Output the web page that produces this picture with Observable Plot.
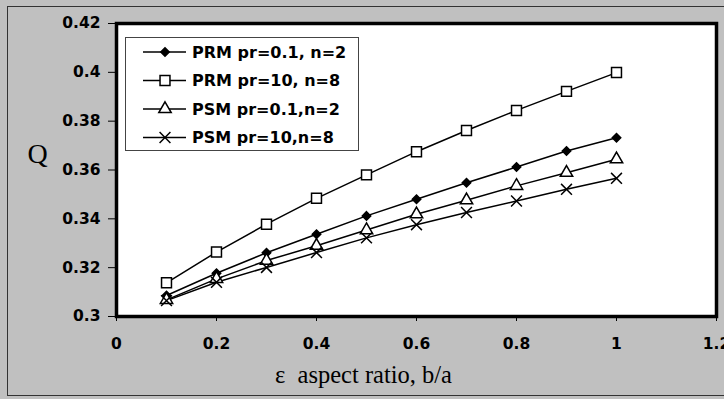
<!DOCTYPE html>
<html><head><meta charset="utf-8">
<script src="https://cdn.jsdelivr.net/npm/d3@7"></script>
<script src="https://cdn.jsdelivr.net/npm/@observablehq/plot@0.6"></script>
<style>
html,body{margin:0;padding:0;background:#c0c0c0;color:#000}
#chart svg{display:block}
</style>
</head><body><div id="chart"></div>
<script>
const ratios = [0.1, 0.2, 0.3, 0.4, 0.5, 0.6, 0.7, 0.8, 0.9, 1.0];
const seriesNames = ["PRM pr=0.1, n=2", "PRM pr=10, n=8", "PSM pr=0.1,n=2", "PSM pr=10,n=8"];
const prmPr01n2 = [0.3086, 0.3177, 0.3261, 0.3337, 0.3412, 0.3480, 0.3548, 0.3612, 0.3678, 0.3732];
const prmPr10n8 = [0.3138, 0.3264, 0.3378, 0.3484, 0.3580, 0.3675, 0.3762, 0.3844, 0.3922, 0.3999];
const psmPr01n2 = [0.3068, 0.3154, 0.3229, 0.3290, 0.3354, 0.3419, 0.3476, 0.3535, 0.3589, 0.3644];
const psmPr10n8 = [0.3065, 0.3140, 0.3201, 0.3262, 0.3322, 0.3376, 0.3426, 0.3473, 0.3521, 0.3566];
const xTicks = [0, 0.2, 0.4, 0.6, 0.8, 1, 1.2];
const yTicks = [0.3, 0.32, 0.34, 0.36, 0.38, 0.4, 0.42];
const xTitle = "ε\u00a0\u00a0aspect ratio, b/a";
const yTitle = "Q";

const seriesValues = [prmPr01n2, prmPr10n8, psmPr01n2, psmPr10n8];
const symbolNames = ["diamond2", "square", "triangle", "times"];
const d3Symbols = [d3.symbolDiamond2, d3.symbolSquare, d3.symbolTriangle, d3.symbolTimes];
const fills = ["black", "white", "white", "none"];
const radii = [3.8, 5.6, 4.6, 5];

const rows = seriesValues.flatMap((vals, i) =>
  vals.map((q, j) => ({series: seriesNames[i], idx: i, x: ratios[j], q})));

const W = 724, H = 399;
const fmt = d3.format("~g");

const plot = Plot.plot({
  width: W, height: H,
  marginLeft: 116, marginRight: 8, marginTop: 23, marginBottom: 83,
  style: {background: "#c0c0c0", fontFamily: "DejaVu Sans", fontWeight: "bold", fontSize: "15.5px", color: "#000"},
  x: {domain: [0, 1.2]},
  y: {domain: [0.3, 0.42]},
  marks: [
    Plot.frame({fill: "white"}),
    Plot.line(rows, {x: "x", y: "q", z: "series", stroke: "black", strokeWidth: 1.5}),
    ...seriesNames.map((name, i) =>
      Plot.dot(rows.filter(d => d.idx === i), {
        x: "x", y: "q", symbol: symbolNames[i], r: radii[i],
        fill: fills[i], stroke: "black", strokeWidth: 1.5
      })),
    Plot.frame({stroke: "black", strokeWidth: 3.5}),
    Plot.axisX({ticks: xTicks, tickFormat: fmt, tickSize: 5, tickPadding: 16, label: null, stroke: "black"}),
    Plot.axisY({ticks: yTicks, tickFormat: fmt, tickSize: 8, tickPadding: 8, label: null, stroke: "black"}),
    Plot.text([xTitle], {frameAnchor: "bottom", dx: -53, dy: 66, fontFamily: "Liberation Serif", fontWeight: "normal", fontSize: 24.5, fill: "black"}),
    Plot.text([yTitle], {frameAnchor: "left", dx: -89, dy: -16, fontFamily: "Liberation Serif", fontWeight: "normal", fontSize: 28, fill: "black"})
  ]
});

const svg = d3.select(plot);
// outer chart border
svg.append("rect")
  .attr("x", 7.5).attr("y", 6.5).attr("width", 730).attr("height", 389)
  .attr("fill", "none").attr("stroke", "#333").attr("stroke-width", 1);

// legend
const lg = svg.append("g").attr("text-anchor", "start");
lg.append("rect")
  .attr("x", 125.5).attr("y", 37.5).attr("width", 233).attr("height", 113)
  .attr("fill", "white").attr("stroke", "#444").attr("stroke-width", 1);
seriesNames.forEach((name, i) => {
  const cy = 52 + i * 28.5;
  lg.append("line").attr("x1", 143).attr("x2", 186).attr("y1", cy).attr("y2", cy)
    .attr("stroke", "black").attr("stroke-width", 1.5);
  lg.append("path")
    .attr("d", d3.symbol(d3Symbols[i], Math.PI * radii[i] * radii[i])())
    .attr("transform", `translate(165,${cy})`)
    .attr("fill", fills[i]).attr("stroke", "black").attr("stroke-width", 1.5);
  lg.append("text").attr("x", 192).attr("y", cy).attr("dy", "0.36em")
    .attr("text-anchor", "start")
    .attr("font-family", "DejaVu Sans").attr("font-weight", "bold").attr("font-size", 16)
    .attr("fill", "black").text(name);
});

document.getElementById("chart").append(plot);
</script>
</body></html>
